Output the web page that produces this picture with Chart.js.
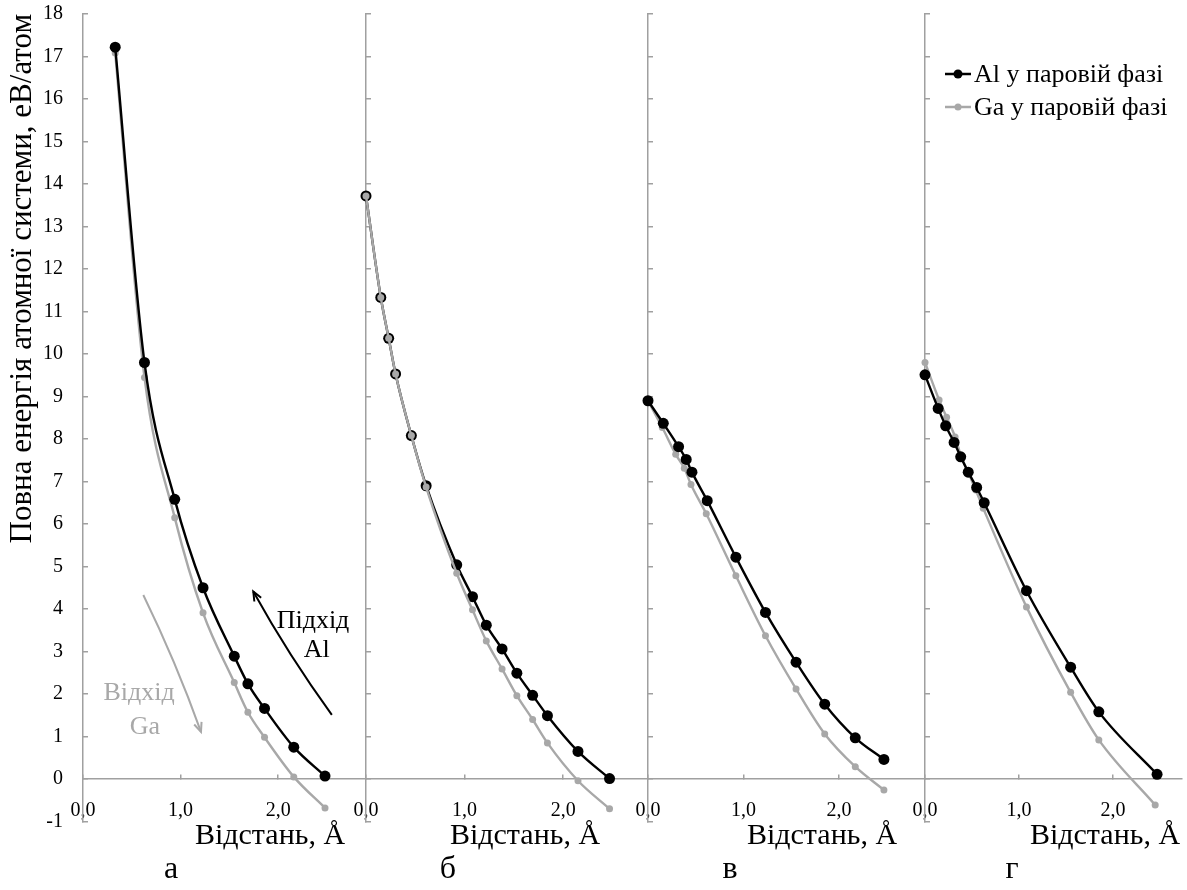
<!DOCTYPE html>
<html>
<head>
<meta charset="utf-8">
<script src="https://cdn.jsdelivr.net/npm/chart.js@4.4.1/dist/chart.umd.min.js"></script>
<style>
  body { margin: 0; background: #fff; }
  #wrap { position: relative; width: 1187px; height: 890px; overflow: hidden; }
  #wrap canvas { position: absolute; left: 0; top: 0; }
</style>
</head>
<body>
<div id="wrap">
  <canvas id="pa" width="1187" height="890"></canvas>
  <canvas id="pb" width="1187" height="890"></canvas>
  <canvas id="pv" width="1187" height="890"></canvas>
  <canvas id="pg" width="1187" height="890"></canvas>
</div>
<script>
// series names and axis texts
const seriesNames = ["Al у паровій фазі", "Ga у паровій фазі"];
const yTitle = "Повна енергія атомної системи, еВ/атом";
const xTitle = "Відстань, Å";
const panelLetters = ["а", "б", "в", "г"];

// panel а
const aDistAl = [0.33, 0.63, 0.94, 1.23, 1.55, 1.69, 1.86, 2.16, 2.48];
const aEnAl   = [17.22, 9.80, 6.58, 4.50, 2.89, 2.24, 1.66, 0.75, 0.07];
const aDistGa = [0.33, 0.63, 0.94, 1.23, 1.55, 1.69, 1.86, 2.16, 2.48];
const aEnGa   = [17.08, 9.45, 6.15, 3.91, 2.27, 1.57, 0.98, 0.05, -0.68];

// panel б
const bDistAl = [0, 0.15, 0.23, 0.30, 0.46, 0.61, 0.92, 1.08, 1.22, 1.38, 1.53, 1.69, 1.84, 2.15, 2.47];
const bEnAl   = [13.72, 11.33, 10.37, 9.53, 8.08, 6.90, 5.04, 4.29, 3.62, 3.06, 2.49, 1.97, 1.49, 0.65, 0.01];
const bDistGa = [0, 0.15, 0.23, 0.30, 0.46, 0.61, 0.92, 1.08, 1.22, 1.38, 1.53, 1.69, 1.84, 2.15, 2.47];
const bEnGa   = [13.72, 11.33, 10.37, 9.53, 8.08, 6.87, 4.84, 3.98, 3.25, 2.59, 1.96, 1.40, 0.85, -0.04, -0.70];

// panel в
const vDistAl = [0, 0.16, 0.32, 0.40, 0.46, 0.62, 0.92, 1.23, 1.55, 1.85, 2.17, 2.47];
const vEnAl   = [8.90, 8.37, 7.82, 7.52, 7.22, 6.55, 5.22, 3.92, 2.75, 1.76, 0.97, 0.46];
const vDistGa = [0, 0.15, 0.29, 0.38, 0.45, 0.61, 0.92, 1.23, 1.55, 1.85, 2.17, 2.47];
const vEnGa   = [8.90, 8.27, 7.64, 7.31, 6.93, 6.24, 4.78, 3.37, 2.12, 1.06, 0.29, -0.26];

// panel г
const gDistAl = [0, 0.14, 0.22, 0.31, 0.38, 0.46, 0.55, 0.63, 1.08, 1.55, 1.85, 2.47];
const gEnAl   = [9.51, 8.72, 8.31, 7.92, 7.58, 7.22, 6.86, 6.50, 4.43, 2.63, 1.58, 0.11];
const gDistGa = [0, 0.15, 0.23, 0.32, 0.38, 0.46, 0.54, 0.62, 1.08, 1.55, 1.85, 2.45];
const gEnGa   = [9.80, 8.92, 8.51, 8.05, 7.62, 7.22, 6.80, 6.37, 4.05, 2.04, 0.92, -0.61];

const serif = "'Liberation Serif', 'Times New Roman', serif";
const axisColor = "#a0a0a0";
const alColor = "#000000";
const gaColor = "#a8a8a8";

function pts(xs, ys) {
  return xs.map((x, i) => ({ x: x, y: ys[i] }));
}

// draws axis titles, letters, arrows and the legend
const panelDecor = {
  id: "panelDecor",
  afterDraw(chart, args, opts) {
    const ctx = chart.ctx;
    const xs = chart.scales.x, ys = chart.scales.y;
    ctx.save();
    (opts.arrows || []).forEach(a => {
      const p0 = [xs.getPixelForValue(a.from[0]), ys.getPixelForValue(a.from[1])];
      const c  = [xs.getPixelForValue(a.ctrl[0]), ys.getPixelForValue(a.ctrl[1])];
      const p1 = [xs.getPixelForValue(a.to[0]), ys.getPixelForValue(a.to[1])];
      ctx.strokeStyle = a.color;
      ctx.lineWidth = 2;
      ctx.beginPath();
      ctx.moveTo(p0[0], p0[1]);
      ctx.quadraticCurveTo(c[0], c[1], p1[0], p1[1]);
      ctx.stroke();
      const ang = Math.atan2(p1[1] - c[1], p1[0] - c[0]);
      ctx.beginPath();
      ctx.moveTo(p1[0] - 10 * Math.cos(ang - 0.4), p1[1] - 10 * Math.sin(ang - 0.4));
      ctx.lineTo(p1[0], p1[1]);
      ctx.lineTo(p1[0] - 10 * Math.cos(ang + 0.4), p1[1] - 10 * Math.sin(ang + 0.4));
      ctx.stroke();
    });
    ctx.textAlign = "center";
    ctx.textBaseline = "middle";
    (opts.labels || []).forEach(t => {
      ctx.font = t.font;
      ctx.fillStyle = t.color || "#000";
      const x = t.data ? xs.getPixelForValue(t.x) : t.x;
      const y = t.data ? ys.getPixelForValue(t.y) : t.y;
      ctx.fillText(t.text, x, y);
    });
    if (opts.legend) {
      const lg = opts.legend;
      ctx.textAlign = "left";
      ctx.font = "26px " + serif;
      chart.data.datasets.forEach((ds, i) => {
        const y = lg.y + i * lg.gap;
        ctx.strokeStyle = ds.borderColor;
        ctx.lineWidth = 2.5;
        ctx.beginPath();
        ctx.moveTo(lg.x, y);
        ctx.lineTo(lg.x + 26, y);
        ctx.stroke();
        ctx.fillStyle = ds.backgroundColor;
        ctx.beginPath();
        ctx.arc(lg.x + 13, y, i === 0 ? 4.5 : 3.5, 0, Math.PI * 2);
        ctx.fill();
        ctx.fillStyle = "#000";
        ctx.fillText(ds.label, lg.x + 29, y + 1);
      });
    }
    ctx.restore();
  }
};

function makePanel(id, p) {
  const showY = p.showY;
  const datasets = [
    {
      label: seriesNames[0], data: pts(p.alX, p.alY),
      borderColor: alColor, backgroundColor: alColor, borderWidth: 2.4,
      pointRadius: 5.5, pointBorderWidth: 0, cubicInterpolationMode: "monotone",
      clip: false, order: p.gaOnTop ? 1 : 0
    },
    {
      label: seriesNames[1], data: pts(p.gaX, p.gaY),
      borderColor: gaColor, backgroundColor: gaColor, borderWidth: 2.4,
      pointRadius: 3.5, pointBorderWidth: 0, cubicInterpolationMode: "monotone",
      clip: false, order: p.gaOnTop ? 0 : 1
    }
  ];
  const labels = [
    { text: xTitle, x: p.titleX, y: 836, font: "30px " + serif },
    { text: panelLetters[p.idx], x: p.letterX, y: 870, font: "32px " + serif }
  ].concat(p.notes || []);

  return new Chart(document.getElementById(id), {
    type: "line",
    data: { datasets: datasets },
    options: {
      responsive: false,
      animation: false,
      events: [],
      layout: { padding: { left: showY ? 0 : p.left, right: 1187 - p.right, top: 14, bottom: 68.5 } },
      plugins: {
        legend: { display: false },
        tooltip: { enabled: false },
        panelDecor: { labels: labels, arrows: p.arrows || [], legend: p.legend || null }
      },
      scales: {
        x: {
          type: "linear", min: 0, max: p.xMax, position: { y: 0 },
          afterFit: s => { s.paddingLeft = 0; s.paddingRight = 0; },
          border: { color: axisColor, width: 1.5 },
          grid: { drawOnChartArea: false, color: axisColor, lineWidth: 1.5, tickLength: -5 },
          ticks: {
            stepSize: 1, includeBounds: false, autoSkip: false, maxRotation: 0,
            padding: 25, color: "#000", font: { family: serif, size: 20 },
            callback: v => v.toFixed(1).replace(".", ",")
          }
        },
        y: {
          type: "linear", min: -1, max: 18, position: "left",
          afterFit: s => { s.width = showY ? 83 : 0; s.paddingTop = 0; s.paddingBottom = 0; },
          border: { color: axisColor, width: 1.5 },
          grid: { drawOnChartArea: false, color: axisColor, lineWidth: 1.5, tickLength: -5 },
          ticks: {
            display: showY, stepSize: 1, padding: 25, color: "#000",
            font: { family: serif, size: 20 }
          },
          title: {
            display: showY, text: yTitle, align: "end", color: "#000",
            font: { family: serif, size: 31 }, padding: { top: 4, bottom: 0 }
          }
        }
      }
    },
    plugins: [panelDecor]
  });
}

makePanel("pa", {
  idx: 0, showY: true, left: 83, right: 366, xMax: 2.9,
  alX: aDistAl, alY: aEnAl, gaX: aDistGa, gaY: aEnGa,
  titleX: 270, letterX: 171,
  arrows: [
    { from: [2.55, 1.51], ctrl: [2.112, 2.89], to: [1.745, 4.41], color: alColor },
    { from: [0.618, 4.33], ctrl: [0.952, 2.76], to: [1.209, 1.11], color: gaColor }
  ],
  notes: [
    { text: "Підхід", x: 2.357, y: 3.72, data: true, font: "26px " + serif, color: "#000" },
    { text: "Al", x: 2.395, y: 3.04, data: true, font: "26px " + serif, color: "#000" },
    { text: "Відхід", x: 0.574, y: 2.02, data: true, font: "26px " + serif, color: gaColor },
    { text: "Ga", x: 0.635, y: 1.22, data: true, font: "26px " + serif, color: gaColor }
  ]
});

makePanel("pb", {
  idx: 1, showY: false, left: 366, right: 648, xMax: 2.86, gaOnTop: true,
  alX: bDistAl, alY: bEnAl, gaX: bDistGa, gaY: bEnGa,
  titleX: 525, letterX: 448
});

makePanel("pv", {
  idx: 2, showY: false, left: 648, right: 925, xMax: 2.9,
  alX: vDistAl, alY: vEnAl, gaX: vDistGa, gaY: vEnGa,
  titleX: 822, letterX: 730
});

makePanel("pg", {
  idx: 3, showY: false, left: 925, right: 1187, xMax: 2.73,
  alX: gDistAl, alY: gEnAl, gaX: gDistGa, gaY: gEnGa,
  titleX: 1105, letterX: 1012,
  legend: { x: 945, y: 74, gap: 33 }
});
</script>
</body>
</html>
